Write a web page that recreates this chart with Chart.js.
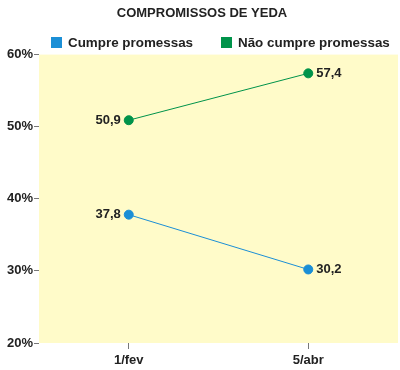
<!DOCTYPE html>
<html>
<head>
<meta charset="utf-8">
<script src="https://cdn.jsdelivr.net/npm/chart.js@4"></script>
<style>
    html, body { margin: 0; padding: 0; background: #fff; overflow: hidden; }
    canvas { display: block; }
</style>
</head>
<body>
<canvas id="chart" width="400" height="370"></canvas>
<script>
// Chart data
const categories = ['1/fev', '5/abr'];
const cumpre = [37.8, 30.2];
const naoCumpre = [50.9, 57.4];
const yTicks = [20, 30, 40, 50, 60];

const FONT = '"Liberation Sans", Arial, sans-serif';

// Yellow plot background
const plotBackground = {
    id: 'plotBackground',
    beforeDraw(chart) {
        const a = chart.chartArea;
        const ctx = chart.ctx;
        ctx.save();
        ctx.fillStyle = '#fffbc9';
        ctx.fillRect(a.left, a.top, a.right - a.left, a.bottom - a.top);
        ctx.restore();
    }
};

// Legend drawn by hand so the two items sit on one row like the original
const legendRow = {
    id: 'legendRow',
    afterDraw(chart) {
        const ctx = chart.ctx;
        const xs = [51, 221];
        ctx.save();
        ctx.font = 'bold 13.4px ' + FONT;
        ctx.textBaseline = 'middle';
        ctx.textAlign = 'left';
        chart.data.datasets.forEach(function(ds, i) {
            ctx.fillStyle = ds.backgroundColor;
            ctx.fillRect(xs[i], 37, 11, 11);
            ctx.fillStyle = '#222';
            ctx.fillText(ds.label, xs[i] + 17, 43);
        });
        ctx.restore();
    }
};

// Value labels beside each point
const valueLabels = {
    id: 'valueLabels',
    afterDatasetsDraw(chart) {
        const ctx = chart.ctx;
        ctx.save();
        ctx.font = 'bold 13px ' + FONT;
        ctx.fillStyle = '#222';
        ctx.textBaseline = 'middle';
        chart.data.datasets.forEach(function(ds, i) {
            chart.getDatasetMeta(i).data.forEach(function(pt, j) {
                const txt = ds.data[j].toFixed(1).replace('.', ',');
                if (j === 0) {
                    ctx.textAlign = 'right';
                    ctx.fillText(txt, pt.x - 8, pt.y);
                } else {
                    ctx.textAlign = 'left';
                    ctx.fillText(txt, pt.x + 8, pt.y);
                }
            });
        });
        ctx.restore();
    }
};

new Chart(document.getElementById('chart'), {
    type: 'line',
    data: {
        labels: categories,
        datasets: [{
            label: 'Cumpre promessas',
            data: cumpre,
            borderColor: '#1b8fd6',
            backgroundColor: '#1b8fd6',
            borderWidth: 1,
            pointRadius: 4.5,
            pointHoverRadius: 4.5
        }, {
            label: 'Não cumpre promessas',
            data: naoCumpre,
            borderColor: '#00934a',
            backgroundColor: '#00934a',
            borderWidth: 1,
            pointRadius: 4.5,
            pointHoverRadius: 4.5
        }]
    },
    options: {
        responsive: false,
        animation: false,
        layout: { autoPadding: false, padding: { left: 6, right: 2, top: 4, bottom: 0 } },
        plugins: {
            title: {
                display: true,
                text: 'COMPROMISSOS DE YEDA',
                color: '#222',
                font: { family: FONT, size: 13, weight: 'bold' },
                padding: { top: 2, bottom: 33 }
            },
            legend: { display: false },
            tooltip: { enabled: false }
        },
        scales: {
            x: {
                offset: true,
                border: { display: false },
                grid: { drawOnChartArea: false, tickLength: 6, color: '#777' },
                ticks: { color: '#222', padding: 4, font: { family: FONT, size: 13, weight: 'bold' } },
                afterFit(axis) {
                    axis.height = 27;
                }
            },
            y: {
                min: 20,
                max: 60,
                afterBuildTicks(axis) {
                    axis.ticks = yTicks.map(function(v) { return { value: v }; });
                },
                border: { display: false },
                grid: { drawOnChartArea: false, tickLength: 5, color: '#777' },
                ticks: {
                    color: '#222',
                    padding: 1,
                    font: { family: FONT, size: 13, weight: 'bold' },
                    callback: function(v) { return v + '%'; }
                }
            }
        }
    },
    plugins: [plotBackground, valueLabels, legendRow]
});
</script>
</body>
</html>
